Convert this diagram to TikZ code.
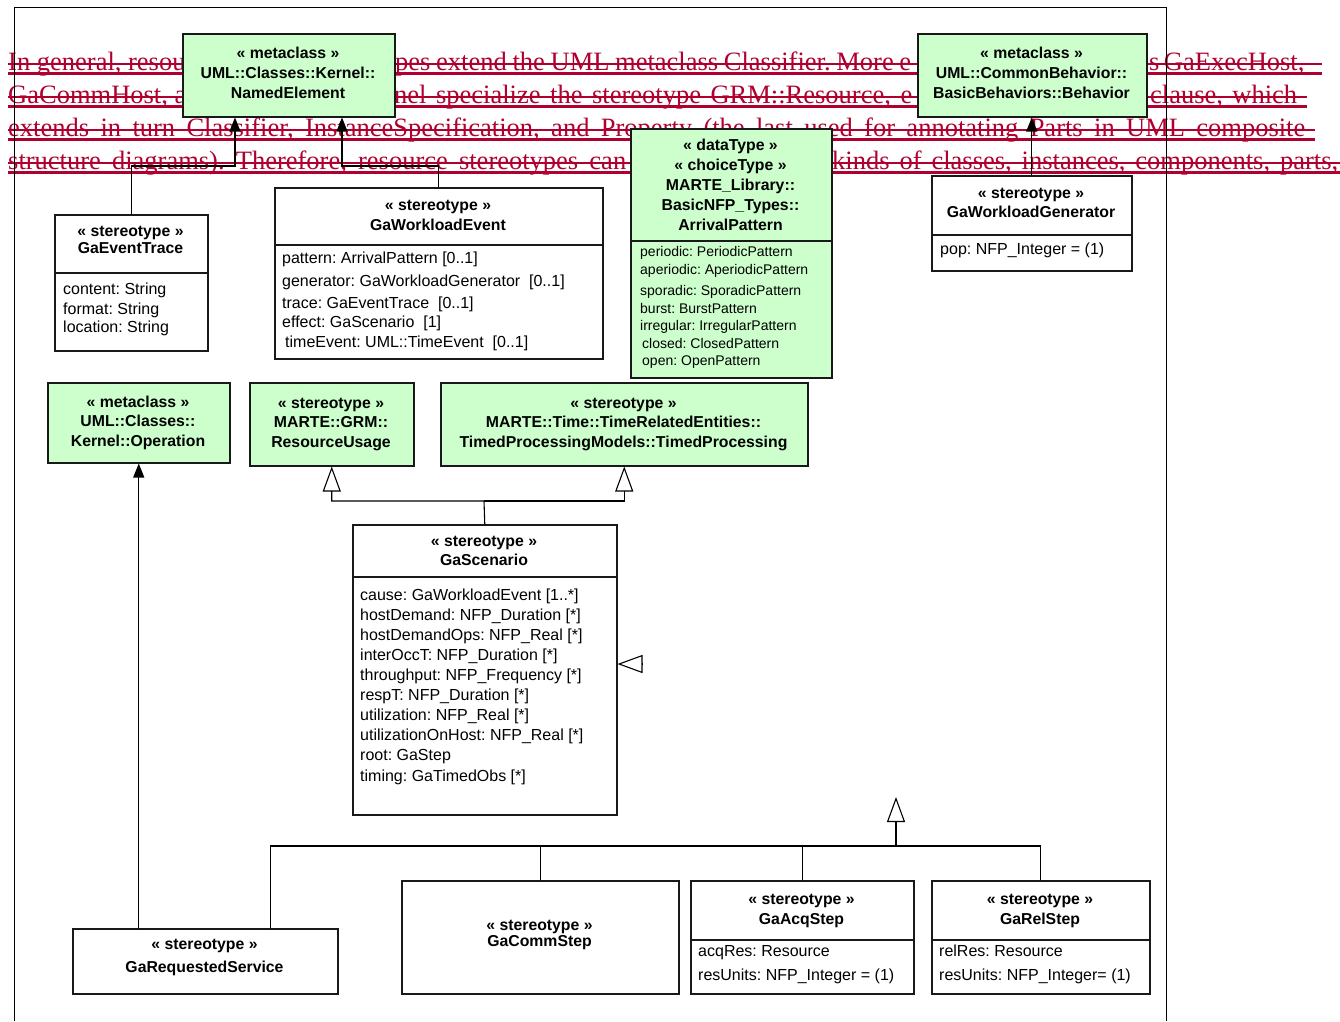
\documentclass[tikz,border=0pt]{standalone}
\usepackage{fontspec}
\setmainfont{Liberation Sans}
\newfontfamily\redserif{Liberation Serif}
\usetikzlibrary{arrows.meta}
\definecolor{umlgreen}{RGB}{204,255,204}
\definecolor{delred}{RGB}{176,0,48}
\newcommand\umlbox[6][]{\node[boxst,#1,anchor=north west,minimum width={#5pt-#3pt},minimum height={#6pt-#4pt}] (#2) at (#3,#4) {};}
\begin{document}
\frenchspacing
\begin{tikzpicture}[x=1pt,y=-1pt,
 boxst/.style={draw=black!90, line width=1.5pt, fill=white, inner sep=0pt},
 grn/.style={fill=umlgreen},
 ttl/.style={font=\fontsize{15.8}{18}\selectfont\bfseries, inner sep=0pt, text height=11pt, text depth=0pt},
 att/.style={font=\fontsize{16}{18}\selectfont, inner sep=0pt, text height=11pt, text depth=0pt, anchor=west},
 satt/.style={font=\fontsize{14}{16}\selectfont, inner sep=0pt, text height=10pt, text depth=0pt, anchor=west},
 redtxt/.style={font=\redserif\fontsize{26.5}{30}\selectfont, text=delred, inner sep=0pt, anchor=base west},
 redln/.style={draw=delred, line width=2.2pt},
 ext/.style={draw, line width=1.1pt, -{Triangle[length=14pt,width=11pt]}},
 gen/.style={draw, line width=1.1pt, -{Triangle[length=25pt,width=18pt,fill=white]}},
 conn/.style={draw, line width=1.1pt},
 divl/.style={draw=black!90, line width=1.5pt}
]
\useasboundingbox (0,0) rectangle (1340,1021);
\fill[white] (0,0) rectangle (1340,1021);

% deleted (struck) paragraph, visible pieces
\node[redtxt] (r1a) at (8,70) {In general, resou};
\node[redtxt] (r1b) at (395,70) {\makebox[516pt][s]{pes extend the UML metaclass Classifier. More e}};
\node[redtxt] (r1c) at (1149,70) {\makebox[153pt][s]{s GaExecHost,}};
\node[redtxt] (r2a) at (8,103) {GaCommHost, a};
\node[redtxt] (r2b) at (394,103) {\makebox[518pt][s]{nel specialize the stereotype GRM::Resource, e}};
\node[redtxt] (r2c) at (1150,103) {\makebox[147pt][s]{clause, which}};
\node[redtxt] (r3a) at (8,136) {\makebox[1297pt][s]{extends in turn Classifier, InstanceSpecification, and Property (the last used for annotating Parts in UML composite}};
\node[redtxt] (r4a) at (8,169) {\makebox[618pt][s]{structure diagrams). Therefore, resource stereotypes can}};
\node[redtxt] (r4b) at (832,169) {\makebox[506pt][s]{kinds of classes, instances, components, parts,}};
\draw[redln] ([yshift=6pt]r1a.base west) -- ++(1314,0);
\draw[redln] ([yshift=-3.5pt]r1a.base west) -- ++(1314,0);
\draw[redln] ([yshift=6pt]r2a.base west) -- ++(1299,0);
\draw[redln] ([yshift=-3.5pt]r2a.base west) -- ++(1299,0);
\draw[redln] ([yshift=6pt]r3a.base west) -- ++(1307,0);
\draw[redln] ([yshift=-3.5pt]r3a.base west) -- ++(1307,0);
\draw[redln] ([yshift=6pt]r4a.base west) -- ++(1332,0);
\draw[redln] ([yshift=-3.5pt]r4a.base west) -- ++(1332,0);

% frame
\draw[line width=1pt] (14,1021) -- (14,7) -- (1166,7) -- (1166,1021);

% boxes
\umlbox[grn]{ne}{182}{33}{394}{116}
\umlbox[grn]{bh}{917}{33}{1146}{116}
\umlbox{et}{54}{214}{207}{350}
\umlbox{we}{274}{187}{602}{358}
\umlbox[grn]{ap}{630}{128}{831}{377}
\umlbox{wg}{931}{175}{1131}{270}
\umlbox[grn]{op}{47}{382}{229}{462}
\umlbox[grn]{ru}{249}{382}{413}{465}
\umlbox[grn]{tp}{440}{382}{807}{465}
\umlbox{sc}{352}{524}{616}{814}
\umlbox{rs}{72}{928}{337}{993}
\umlbox{cs}{401}{880}{678}{993}
\umlbox{aq}{690}{880}{913}{993}
\umlbox{rl}{931}{880}{1149}{993}

% compartment dividers
\draw[divl] (et.west |- 0,273) -- (et.east |- 0,273);
\draw[divl] (we.west |- 0,245) -- (we.east |- 0,245);
\draw[divl] (ap.west |- 0,241) -- (ap.east |- 0,241);
\draw[divl] (wg.west |- 0,235) -- (wg.east |- 0,235);
\draw[divl] (sc.west |- 0,577) -- (sc.east |- 0,577);
\draw[divl] (aq.west |- 0,940) -- (aq.east |- 0,940);
\draw[divl] (rl.west |- 0,940) -- (rl.east |- 0,940);

% titles
\node[ttl] (ne1) at (288,53) {« metaclass »};
\node[ttl] (ne2) at (288,73) {UML::Classes::Kernel::};
\node[ttl] (ne3) at (288,93) {NamedElement};
\node[ttl] (bh1) at (1031.5,53) {« metaclass »};
\node[ttl] (bh2) at (1031.5,73) {UML::CommonBehavior::};
\node[ttl] (bh3) at (1031.5,93) {BasicBehaviors::Behavior};
\node[ttl] (et1) at (130.5,231) {« stereotype »};
\node[ttl] (et2) at (130.5,248) {GaEventTrace};
\node[ttl] (we1) at (438,205) {« stereotype »};
\node[ttl] (we2) at (438,225) {GaWorkloadEvent};
\node[ttl] (ap1) at (730.5,145) {« dataType »};
\node[ttl] (ap2) at (730.5,165) {« choiceType »};
\node[ttl] (ap3) at (730.5,185) {MARTE\_Library::};
\node[ttl] (ap4) at (730.5,205) {BasicNFP\_Types::};
\node[ttl] (ap5) at (730.5,225) {ArrivalPattern};
\node[ttl] (wg1) at (1031,193) {« stereotype »};
\node[ttl] (wg2) at (1031,212) {GaWorkloadGenerator};
\node[ttl] (op1) at (138,402) {« metaclass »};
\node[ttl] (op2) at (138,421) {UML::Classes::};
\node[ttl] (op3) at (138,441) {Kernel::Operation};
\node[ttl] (ru1) at (331,403) {« stereotype »};
\node[ttl] (ru2) at (331,422) {MARTE::GRM::};
\node[ttl] (ru3) at (331,442) {ResourceUsage};
\node[ttl] (tp1) at (623.5,403) {« stereotype »};
\node[ttl] (tp2) at (623.5,422) {MARTE::Time::TimeRelatedEntities::};
\node[ttl] (tp3) at (623.5,442) {TimedProcessingModels::TimedProcessing};
\node[ttl] (sc1) at (484,541) {« stereotype »};
\node[ttl] (sc2) at (484,560) {GaScenario};
\node[ttl] (rs1) at (204.5,944) {« stereotype »};
\node[ttl] (rs2) at (204.5,967) {GaRequestedService};
\node[ttl] (cs1) at (539.5,925) {« stereotype »};
\node[ttl] (cs2) at (539.5,941) {GaCommStep};
\node[ttl] (aq1) at (801.5,899) {« stereotype »};
\node[ttl] (aq2) at (801.5,919) {GaAcqStep};
\node[ttl] (rl1) at (1040,899) {« stereotype »};
\node[ttl] (rl2) at (1040,919) {GaRelStep};

% attributes
\node[att] (eta) at (63,289) {content: String};
\node[att] (etb) at (63,309) {format: String};
\node[att] (etc) at (63,327) {location: String};
\node[att] (wea) at (282,258) {pattern: ArrivalPattern [0..1]};
\node[att] (web) at (282,281) {generator: GaWorkloadGenerator\ \ [0..1]};
\node[att] (wec) at (282,303) {trace: GaEventTrace\ \ [0..1]};
\node[att] (wed) at (282,322) {effect: GaScenario\ \ [1]};
\node[att] (wee) at (285,342) {timeEvent: UML::TimeEvent\ \ [0..1]};
\node[satt] (apa) at (640,251) {periodic: PeriodicPattern};
\node[satt] (apb) at (640,269) {aperiodic: AperiodicPattern};
\node[satt] (apc) at (640,290) {sporadic: SporadicPattern};
\node[satt] (apd) at (640,308) {burst: BurstPattern};
\node[satt] (ape) at (640,325) {irregular: IrregularPattern};
\node[satt] (apf) at (642,343) {closed: ClosedPattern};
\node[satt] (apg) at (642,360) {open: OpenPattern};
\node[att] (wga) at (940,249) {pop: NFP\_Integer = (1)};
\node[att] (sca) at (360,595) {cause: GaWorkloadEvent [1..*]};
\node[att] (scb) at (360,615) {hostDemand: NFP\_Duration [*]};
\node[att] (scc) at (360,635) {hostDemandOps: NFP\_Real [*]};
\node[att] (scd) at (360,655) {interOccT: NFP\_Duration [*]};
\node[att] (sce) at (360,675) {throughput: NFP\_Frequency [*]};
\node[att] (scf) at (360,695) {respT: NFP\_Duration [*]};
\node[att] (scg) at (360,715) {utilization: NFP\_Real [*]};
\node[att] (sch) at (360,735) {utilizationOnHost: NFP\_Real [*]};
\node[att] (sci) at (360,755) {root: GaStep};
\node[att] (scj) at (360,776) {timing: GaTimedObs [*]};
\node[att] (aqa) at (698,951) {acqRes: Resource};
\node[att] (aqb) at (698,975) {resUnits: NFP\_Integer = (1)};
\node[att] (rla) at (939,951) {relRes: Resource};
\node[att] (rlb) at (939,975) {resUnits: NFP\_Integer= (1)};

% connectors
\coordinate (b1) at (235,166);
\coordinate (b2) at (342,166);
\draw[ext] (et.north) |- (b1) -- (b1 |- ne.south);
\draw[ext] (we.north) |- (b2) -- (b2 |- ne.south);
\draw[ext] (wg.north) -- (wg.north |- bh.south);
\draw[ext] (rs.north -| op.south) -- (op.south);
\coordinate (sb) at (484,501);
\draw[gen] (sc.north) -- (sb) -| (ru.south);
\draw[gen] (sb) -| (tp.south);
\coordinate (hub) at (896,846);
\coordinate (gstip) at (896,797);
\draw[conn] ([xshift=65.5pt]rs.north) |- (hub);
\draw[conn] (cs.north) |- (hub);
\draw[conn] (aq.north) |- (hub);
\draw[conn] (rl.north) |- (hub);
\draw[gen] (hub) -- (gstip);
\coordinate (sgb) at (642,664);
\draw[gen] (sgb) -- (sgb -| sc.east);
\end{tikzpicture}
\end{document}
